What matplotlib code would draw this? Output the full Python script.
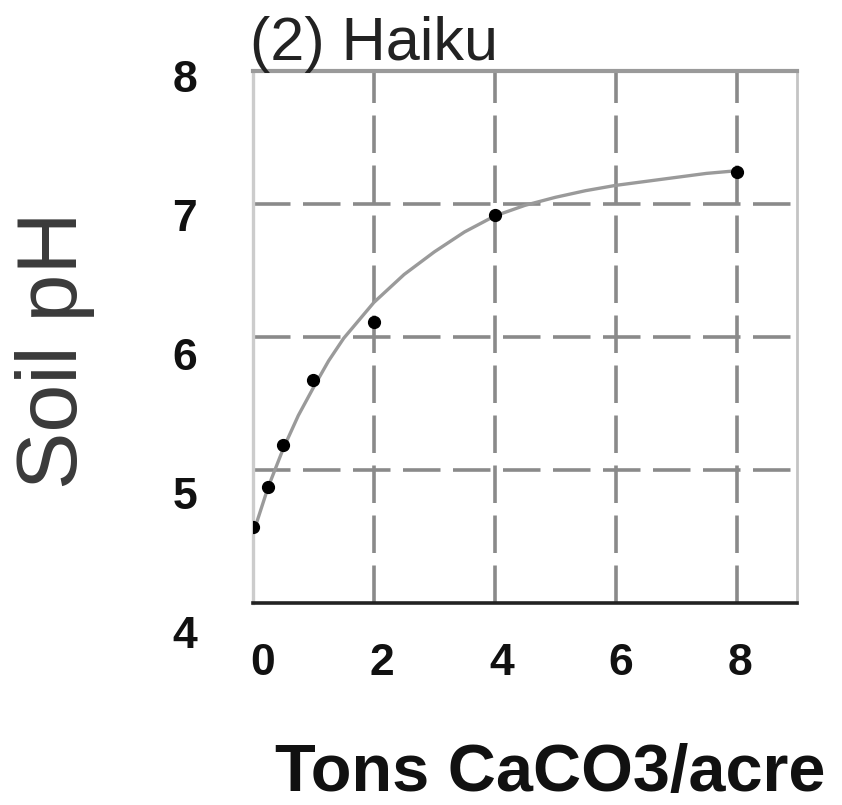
import matplotlib
matplotlib.use("Agg")
import matplotlib.pyplot as plt
import matplotlib.transforms as mtransforms

plt.rcParams['font.family'] = ['Liberation Sans', 'DejaVu Sans']
plt.rcParams['lines.scale_dashes'] = False

# Data
lime_tons = [0, 0.25, 0.5, 1, 2, 4, 8]
soil_ph = [4.57, 4.87, 5.19, 5.68, 6.11, 6.92, 7.24]

# Fitted curve, read at several points from the picture
curve_x = [0, 0.25, 0.5, 0.75, 1, 1.25, 1.5, 2, 2.5, 3, 3.5, 4, 4.5, 5,
           5.5, 6, 6.5, 7, 7.5, 8]
curve_y = [4.52, 4.87, 5.16, 5.41, 5.62, 5.82, 5.99, 6.26, 6.47, 6.64,
           6.79, 6.91, 6.99, 7.05, 7.1, 7.14, 7.17, 7.2, 7.23, 7.25]

x_ticks = [0, 2, 4, 6, 8]
y_ticks = [4, 5, 6, 7, 8]

W, H = 842, 805
fig = plt.figure(figsize=(W / 100, H / 100), dpi=100)

L, R, T, B = 253, 797, 71, 603
pos = [L / W, 1 - B / H, (R - L) / W, (B - T) / H]
ax = fig.add_axes(pos)
ax.set_xlim(0, 9)
ax.set_ylim(4, 8)

grid_kw = dict(color='#8a8a8a', lw=2.6, linestyle=(0, (27, 9)), zorder=1)
for gx in x_ticks[1:]:
    ax.axvline(gx, **grid_kw)
for gy in y_ticks[1:-1]:
    ax.axhline(gy, **grid_kw)

ax.plot(curve_x, curve_y, color='#9a9a9a', lw=2.4, zorder=2,
        solid_capstyle='round', solid_joinstyle='round')
ax.plot(lime_tons, soil_ph, 'o', color='black', ms=8.5, zorder=3)

ax.set_xticks([])
ax.set_yticks([])
ax.spines['bottom'].set_color('#222222')
ax.spines['bottom'].set_linewidth(2.6)
ax.spines['top'].set_color('#9a9a9a')
ax.spines['top'].set_linewidth(3.0)
ax.spines['left'].set_color('#cccccc')
ax.spines['left'].set_linewidth(2.4)
ax.spines['right'].set_color('#c4c4c4')
ax.spines['right'].set_linewidth(2.0)

# Overlay axes carrying the tick labels at their positions in the picture
lab = fig.add_axes(pos, frameon=False)
lab.patch.set_visible(False)
lab.set_xticks(x_ticks)
lab.set_xticklabels([str(v) for v in x_ticks])
lab.set_yticks([])
x0_px, x8_px = 263, 740
xs = (x8_px - x0_px) / 8
lab.set_xlim(0 - (x0_px - L) / xs, 8 + (R - x8_px) / xs)
y4_px, y8_px = 636, 80
ys = (y4_px - y8_px) / 4
lab.set_ylim(4 + (y4_px - B) / ys, 4 + (y4_px - T) / ys)
lab.tick_params(axis='x', length=0, pad=29, labelsize=32)
for t in lab.get_xticklabels():
    t.set_fontweight('bold')
    t.set_color('#111111')

ylab_tr = mtransforms.blended_transform_factory(lab.transAxes, lab.transData)
for v in y_ticks:
    lab.text(-(L - 197) / (R - L), v, str(v), transform=ylab_tr,
             ha='right', va='center', fontsize=32, fontweight='bold',
             color='#111111', clip_on=False)

fig.text(250 / W, 1 - 60 / H, '(2) Haiku', fontsize=44, color='#222222',
         ha='left', va='baseline')
fig.text(550 / W, 1 - 791 / H, 'Tons CaCO3/acre', fontsize=48,
         fontweight='bold', color='#111111', ha='center', va='baseline')
fig.text(55 / W, 1 - 350 / H, 'Soil pH', fontsize=62, color='#3a3a3a',
         rotation=90, ha='center', va='center')

fig.savefig('out.png', dpi=100)
